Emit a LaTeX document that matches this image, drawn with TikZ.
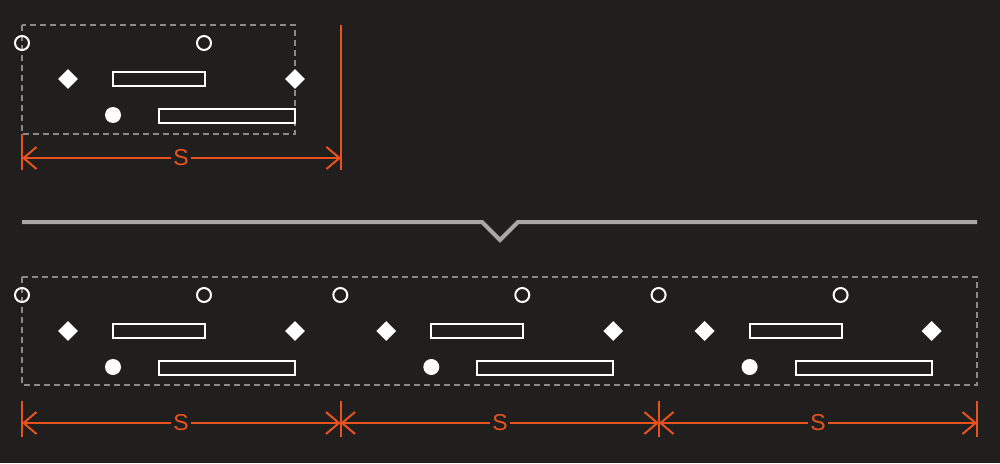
\documentclass[tikz,border=0pt]{standalone}
\usepackage{fontspec}
\setsansfont{Liberation Sans}
\usetikzlibrary{arrows.meta,shapes.geometric}
\definecolor{bg}{HTML}{201F1E}
\definecolor{dimc}{HTML}{E8521E}
\definecolor{sepc}{HTML}{A8A8A8}
\definecolor{dashc}{HTML}{8A8A8A}
\tikzset{
  opencirc/.style={circle,draw=white,line width=2pt,minimum size=14pt,inner sep=0pt},
  fillcirc/.style={circle,fill=white,minimum size=16pt,inner sep=0pt},
  dia/.style={diamond,fill=white,minimum size=20pt,inner sep=0pt},
  shortbar/.style={rectangle,draw=white,line width=2pt,minimum width=92pt,minimum height=14pt,inner sep=0pt},
  longbar/.style={rectangle,draw=white,line width=2pt,minimum width=136pt,minimum height=14pt,inner sep=0pt},
  frame/.style={draw=dashc,line width=1.3pt,dash pattern=on 6pt off 4pt},
  dimline/.style={draw=dimc,line width=2pt,{Straight Barb[length=13pt,width=22pt,line width=2pt]}-{Straight Barb[length=13pt,width=22pt,line width=2pt]}},
  tick/.style={draw=dimc,line width=2pt},
  dimlabel/.style={fill=bg,text=dimc,inner sep=2pt,font=\sffamily\fontsize{23}{25}\selectfont},
  sep/.style={draw=sepc,line width=4pt}
}
\begin{document}
\begin{tikzpicture}[x=1pt,y=-1pt]
\fill[bg] (0,0) rectangle (1000,463);
\useasboundingbox (0,0) rectangle (1000,463);
% top single period
\draw[frame] (22,25) rectangle (295,134);
\node[opencirc] (ta1) at (22,43) {};
\node[opencirc] (ta2) at (204,43) {};
\node[dia] (tb1) at (68,79) {};
\node[shortbar] (tbar) at (159,79) {};
\node[dia] (tb2) at (295,79) {};
\node[fillcirc] (tc1) at (113,115) {};
\node[longbar] (tlbar) at (227,115.5) {};
\coordinate (tl0) at (22,134);
\coordinate (tl1) at (22,170);
\coordinate (tr0) at (341,25);
\coordinate (tr1) at (341,170);
\draw[tick] (tl0) -- (tl1);
\draw[tick] (tr0) -- (tr1);
\coordinate (td0) at (22,158);
\coordinate (td1) at (341,158);
\draw[dimline] (td0) -- (td1);
\node[dimlabel] (ts) at (181,158) {S};
% separator
\coordinate (s0) at (22,222);
\coordinate (s1) at (482,222);
\coordinate (s2) at (500,240);
\coordinate (s3) at (518,222);
\coordinate (s4) at (977,222);
\draw[sep,line join=miter] (s0) -- (s1) -- (s2) -- (s3) -- (s4);
% bottom repeated
\draw[frame] (22,277) rectangle (977,385);
\foreach \i/\o in {1/0,2/318.3,3/636.6}{
  \node[opencirc] (ba\i) at (22+\o,295) {};
  \node[opencirc] (bb\i) at (204+\o,295) {};
  \node[dia] (bd\i) at (68+\o,331) {};
  \node[shortbar] (bs\i) at (159+\o,331) {};
  \node[dia] (be\i) at (295+\o,331) {};
  \node[fillcirc] (bf\i) at (113+\o,367) {};
  \node[longbar] (bl\i) at (227+\o,367.5) {};
}
\foreach \i/\x in {0/22,1/340.5,2/659,3/977}{
  \coordinate (bt\i a) at (\x,401);
  \coordinate (bt\i b) at (\x,437);
  \coordinate (bd\i) at (\x,423);
  \draw[tick] (bt\i a) -- (bt\i b);
}
\draw[dimline] (bd0) -- (bd1);
\draw[dimline] (bd1) -- (bd2);
\draw[dimline] (bd2) -- (bd3);
\node[dimlabel] (bs1l) at (181,423) {S};
\node[dimlabel] (bs2l) at (500,423) {S};
\node[dimlabel] (bs3l) at (818,423) {S};
\end{tikzpicture}
\end{document}
